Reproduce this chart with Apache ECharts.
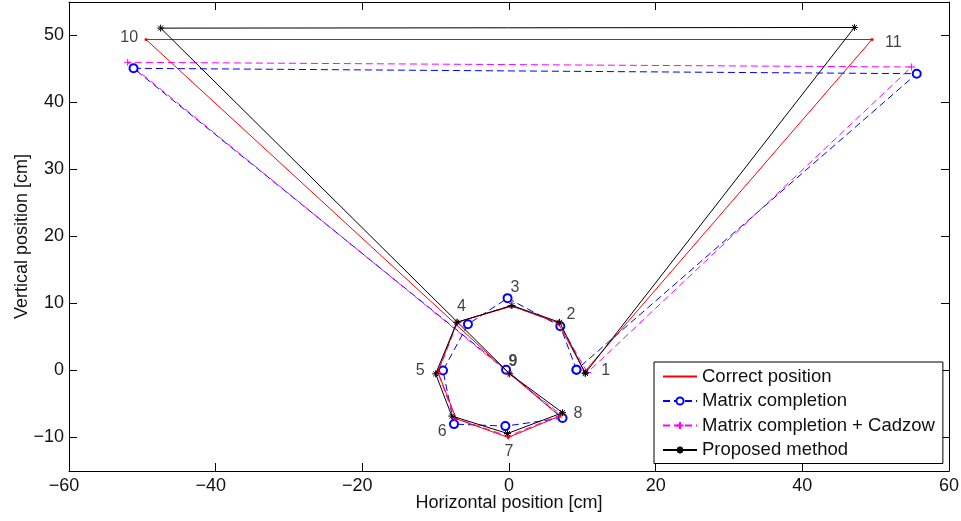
<!DOCTYPE html>
<html>
<head>
<meta charset="utf-8">
<script src="https://cdn.jsdelivr.net/npm/echarts@6/dist/echarts.min.js"></script>
<style>
html,body{margin:0;padding:0;background:#fff;}
#chart{width:961px;height:521px;}
</style>
</head>
<body>
<div id="chart"></div>
<script>
// Point order: 1..11, path closes back to point 1
const correctX  = [10.3, 6.7, 0.4, -7.1, -9.7, -7.2, -0.1, 6.9, 0.1, -49.5, 49.5];
const correctY  = [-0.2, 7.1, 9.6, 7.2, -0.2, -7.2, -10.0, -6.8, -0.5, 49.4, 49.4];
const matrixX   = [9.2, 7.0, -0.2, -5.6, -9.0, -7.5, -0.5, 7.3, -0.4, -51.2, 55.6];
const matrixY   = [0.1, 6.6, 10.8, 6.9, 0.0, -8.0, -8.3, -7.1, 0.1, 45.1, 44.3];
const cadzowX   = [10.7, 6.8, 0.3, -7.0, -9.7, -7.4, -0.1, 7.1, 0.0, -52.0, 54.9];
const cadzowY   = [-0.3, 7.1, 9.7, 7.2, -0.3, -7.1, -9.8, -6.6, -0.4, 46.0, 45.3];
const proposedX = [10.4, 6.9, 0.4, -7.1, -10.0, -7.8, -0.2, 7.3, 0.1, -47.5, 47.1];
const proposedY = [-0.4, 7.2, 9.7, 7.2, -0.5, -6.8, -9.4, -6.3, -0.5, 51.1, 51.2];

const pointLabels = ['1','2','3','4','5','6','7','8','9','10','11'];
const labelX = [13.2, 8.45, 0.8, -6.5, -12.1, -9.1, 0.0, 9.4, 0.55, -51.8, 52.4];
const labelY = [0.0, 8.3, 12.3, 9.5, 0.0, -9.1, -12.1, -6.4, 1.3, 49.7, 49.0];

const seriesNames = ['Correct position', 'Matrix completion', 'Matrix completion + Cadzow', 'Proposed method'];

function closedPath(xs, ys) {
  const d = xs.map((x, i) => [x, ys[i]]);
  d.push([xs[0], ys[0]]);
  return d;
}
const MINUS = '\u2212';
function fmt(v) { return v < 0 ? MINUS + Math.abs(v) : String(v); }

const FONT = 'Liberation Sans, Arial, Helvetica, sans-serif';
const TXT = '#111';
const asterisk = 'path://M0,-10L0,10M-10,0L10,0M-7.07,-7.07L7.07,7.07M-7.07,7.07L7.07,-7.07';
const plus = 'path://M0,-10L0,10M-10,0L10,0';

const chart = echarts.init(document.getElementById('chart'), null, {renderer: 'canvas'});
const axisLine = {show: true, onZero: false, lineStyle: {color: '#000', width: 1}};
const tick = {show: true, inside: true, length: 8, lineStyle: {color: '#000', width: 1}};

const option = {
  animation: false,
  backgroundColor: '#fff',
  textStyle: {fontFamily: FONT},
  grid: {left: 69, right: 12, top: 2, bottom: 50, containLabel: false, outerBoundsMode: 'none'},
  xAxis: [
    {type: 'value', min: -60, max: 60, interval: 20, position: 'bottom',
     axisLine: axisLine, axisTick: tick, splitLine: {show: false},
     axisLabel: {margin: 6, color: TXT, fontSize: 18, fontFamily: FONT,
       formatter: v => v < 0 ? '{n|' + fmt(v) + '}' : fmt(v),
       rich: {n: {fontSize: 18, fontFamily: FONT, color: TXT, padding: [0, 10, 0, 0]}}},
     name: 'Horizontal position [cm]', nameLocation: 'middle', nameGap: 23.5, nameMoveOverlap: false,
     nameTextStyle: {fontSize: 18, color: TXT, fontFamily: FONT}},
    {type: 'value', min: -60, max: 60, interval: 20, position: 'top',
     axisLine: axisLine, axisTick: tick, axisLabel: {show: false}, splitLine: {show: false}}
  ],
  yAxis: [
    {type: 'value', min: -15, max: 55, splitNumber: 7, position: 'left',
     axisLine: axisLine, axisTick: tick, splitLine: {show: false},
     axisLabel: {margin: 5, color: TXT, fontSize: 18, fontFamily: FONT,
       showMinLabel: false, showMaxLabel: false,
       formatter: v => (v % 10 === 0 ? fmt(v) : '')},
     name: 'Vertical position [cm]', nameLocation: 'middle', nameGap: 38, nameMoveOverlap: false,
     nameTextStyle: {fontSize: 18, color: TXT, fontFamily: FONT}},
    {type: 'value', min: -15, max: 55, splitNumber: 7, position: 'right',
     axisLine: axisLine, axisTick: tick, axisLabel: {show: false}, splitLine: {show: false}}
  ],
  legend: {
    orient: 'vertical', left: 654, top: 362,
    backgroundColor: '#fff', borderColor: '#000', borderWidth: 1, borderRadius: 0,
    padding: [5, 8, 4, 8], itemGap: 5.5, itemWidth: 34, itemHeight: 9,
    textStyle: {fontSize: 18.5, color: TXT, fontFamily: FONT},
    data: [
      {name: seriesNames[0], itemStyle: {opacity: 0}},
      {name: seriesNames[1]},
      {name: seriesNames[2]},
      {name: seriesNames[3]}
    ]
  },
  series: [
    {name: seriesNames[0], type: 'line', data: closedPath(correctX, correctY),
     symbol: 'circle', symbolSize: 3, showAllSymbol: true, z: 3,
     lineStyle: {color: '#ff0000', width: 1}, itemStyle: {color: '#ff0000'}},
    {name: seriesNames[1], type: 'line', data: closedPath(matrixX, matrixY),
     symbol: 'emptyCircle', symbolSize: 8, showAllSymbol: true, z: 2,
     lineStyle: {color: '#0000ff', width: 1, type: [7, 4]},
     itemStyle: {color: '#0000ff', borderColor: '#0000ff', borderWidth: 1}},
    {name: seriesNames[2], type: 'line', data: closedPath(cadzowX, cadzowY),
     symbol: plus, symbolSize: 7, showAllSymbol: true, z: 2,
     lineStyle: {color: '#ff00ff', width: 1, type: [7, 4]},
     itemStyle: {color: '#ff00ff', borderColor: '#ff00ff', borderWidth: 1}},
    {name: seriesNames[3], type: 'line', data: closedPath(proposedX, proposedY),
     symbol: asterisk, symbolSize: 7, showAllSymbol: true, z: 4,
     lineStyle: {color: '#000', width: 1},
     itemStyle: {color: '#000', borderColor: '#000', borderWidth: 1}},
    {name: 'labels', type: 'scatter', symbolSize: 0, z: 5, silent: true,
     data: pointLabels.map((t, i) => ({name: t, value: [labelX[i], labelY[i]],
       label: t === '9' ? {fontWeight: 'bold'} : undefined})),
     label: {show: true, position: 'inside', formatter: p => p.name,
       fontSize: 16, color: TXT, fontFamily: FONT}}
  ]
};
chart.setOption(option);
</script>
</body>
</html>
